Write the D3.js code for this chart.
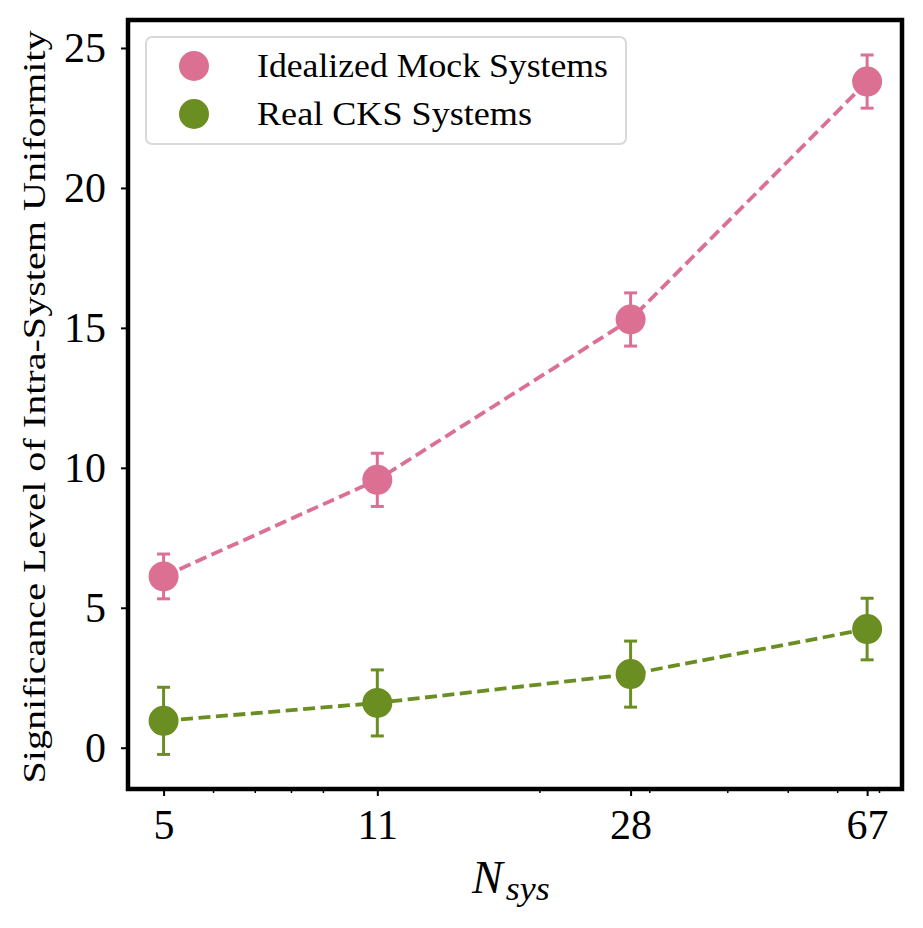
<!DOCTYPE html>
<html>
<head>
<meta charset="utf-8">
<script src="https://cdn.jsdelivr.net/npm/d3@7"></script>
<style>
  html, body { margin: 0; padding: 0; background: #fff; }
  text { font-family: "Liberation Serif", "DejaVu Serif", serif; fill: #000; }
</style>
</head>
<body>
<svg id="chart" width="923" height="928"></svg>
<script>
// Data
const nSys = [5, 11, 28, 67];
const mockValues = [6.12, 9.57, 15.3, 23.8];
const mockErrors = [0.8, 0.95, 0.95, 0.95];
const realValues = [0.96, 1.6, 2.63, 4.24];
const realErrors = [1.2, 1.18, 1.18, 1.1];
const xTickLabels = ['5', '11', '28', '67'];
const xMinorTicks = [6, 7, 8, 9, 20, 30, 40, 50, 60, 70];
const yTicks = [0, 5, 10, 15, 20, 25];
const seriesNames = ['Idealized Mock Systems', 'Real CKS Systems'];
const legendTextWidths = [351, 275];

const pink = '#DB7093', green = '#6B8E23';

/**
 * Layout.
 */
const margin = { top: 20, right: 21, bottom: 139, left: 128 };
const visWidth = 923, visHeight = 928,
    width = visWidth - margin.left - margin.right,
    height = visHeight - margin.top - margin.bottom;

const svg = d3.select('#chart');
const g = svg.append('g').attr('transform', 'translate(' + margin.left + ',' + margin.top + ')');

const xScale = d3.scaleLog().domain([4.385, 76.2]).range([0, width]);
const yScale = d3.scaleLinear().domain([-1.475, 26]).range([height, 0]);

// Axes
const xAxis = d3.axisBottom(xScale).tickValues(nSys).tickFormat((d, i) => xTickLabels[i])
    .tickSize(7).tickPadding(13);
const xMinor = d3.axisBottom(xScale).tickValues(xMinorTicks).tickFormat('').tickSize(4);
const yAxis = d3.axisLeft(yScale).tickValues(yTicks).tickSize(7).tickPadding(15);

const xAxisG = g.append('g').attr('transform', 'translate(0,' + height + ')').call(xAxis);
g.append('g').attr('transform', 'translate(0,' + height + ')').call(xMinor)
    .call(s => s.select('.domain').remove())
    .selectAll('line').attr('stroke-width', 1.5);
const yAxisG = g.append('g').call(yAxis);

[xAxisG, yAxisG].forEach(a => {
    a.select('.domain').remove();
    a.selectAll('line').attr('stroke-width', 2);
    a.selectAll('text').attr('font-size', 42).attr('font-family', '"Liberation Serif", serif');
});

// Series
const series = [
    { name: seriesNames[0], color: pink, values: mockValues, errors: mockErrors },
    { name: seriesNames[1], color: green, values: realValues, errors: realErrors }
];

const line = d3.line()
    .x(d => xScale(d.n))
    .y(d => yScale(d.v));

series.forEach(s => {
    const pts = nSys.map((n, i) => ({ n: n, v: s.values[i], e: s.errors[i] }));
    const sg = g.append('g');

    sg.append('path').datum(pts)
        .attr('d', line)
        .attr('fill', 'none')
        .attr('stroke', s.color)
        .attr('stroke-width', 3.8)
        .attr('stroke-dasharray', '12,5.5');

    const eb = sg.selectAll('.err').data(pts).enter().append('g').attr('class', 'err')
        .attr('stroke', s.color).attr('stroke-width', 3);
    eb.append('line')
        .attr('x1', d => xScale(d.n)).attr('x2', d => xScale(d.n))
        .attr('y1', d => yScale(d.v - d.e)).attr('y2', d => yScale(d.v + d.e));
    eb.append('line')
        .attr('x1', d => xScale(d.n) - 6.5).attr('x2', d => xScale(d.n) + 6.5)
        .attr('y1', d => yScale(d.v + d.e)).attr('y2', d => yScale(d.v + d.e));
    eb.append('line')
        .attr('x1', d => xScale(d.n) - 6.5).attr('x2', d => xScale(d.n) + 6.5)
        .attr('y1', d => yScale(d.v - d.e)).attr('y2', d => yScale(d.v - d.e));

    sg.selectAll('circle').data(pts).enter().append('circle')
        .attr('cx', d => xScale(d.n))
        .attr('cy', d => yScale(d.v))
        .attr('r', 15)
        .attr('fill', s.color);
});

// Frame
g.append('rect')
    .attr('width', width).attr('height', height)
    .attr('fill', 'none').attr('stroke', '#000').attr('stroke-width', 4.5);

// Legend
const legend = g.append('g').attr('transform', 'translate(18,17)');
legend.append('rect')
    .attr('width', 480).attr('height', 107).attr('rx', 6)
    .attr('fill', '#fff').attr('fill-opacity', 0.8)
    .attr('stroke', '#d9d9d9').attr('stroke-width', 2);
series.forEach((s, i) => {
    const row = legend.append('g').attr('transform', 'translate(0,' + (29 + i * 48) + ')');
    row.append('circle').attr('cx', 48).attr('cy', 0).attr('r', 15).attr('fill', s.color);
    row.append('text').attr('x', 111).attr('y', 11)
        .attr('font-size', 33)
        .attr('textLength', legendTextWidths[i])
        .attr('lengthAdjust', 'spacingAndGlyphs')
        .text(s.name);
});

// Axis labels
svg.append('text')
    .attr('transform', 'translate(45,407) rotate(-90)')
    .attr('text-anchor', 'middle')
    .attr('font-size', 32)
    .attr('textLength', 753)
    .attr('lengthAdjust', 'spacingAndGlyphs')
    .text('Significance Level of Intra-System Uniformity');

const xl = svg.append('text')
    .attr('x', 472).attr('y', 893)
    .attr('font-size', 46).attr('font-style', 'italic');
xl.append('tspan').text('N');
xl.append('tspan').attr('font-size', 34).attr('dx', 3).attr('dy', 7)
    .attr('textLength', 44).attr('lengthAdjust', 'spacingAndGlyphs').text('sys');
</script>
</body>
</html>
